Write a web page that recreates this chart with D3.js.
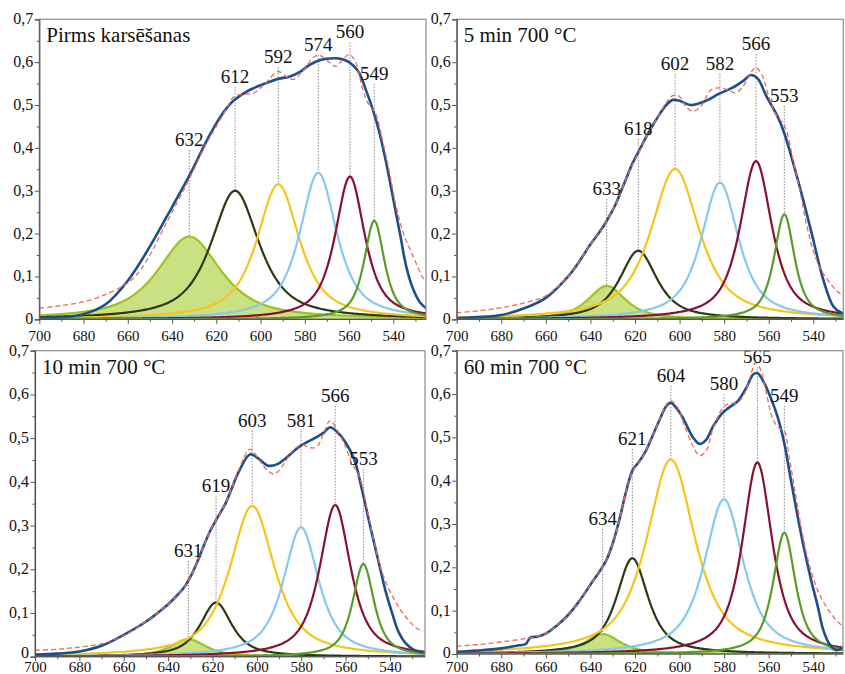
<!DOCTYPE html>
<html><head><meta charset="utf-8">
<script src="https://cdn.jsdelivr.net/npm/d3@7"></script>
<style>
body{margin:0;background:#fff}
svg{display:block}
</style>
</head><body><svg id="c" width="845" height="674"></svg>
<script>
// ---------------- DATA ----------------
const panelTitles = ["Pirms karsēšanas", "5 min 700 °C", "10 min 700 °C", "60 min 700 °C"];
const componentNames = ["P1", "P2", "P3", "P4", "P5", "P6"];
const peakLabels = [
  ["632", "612", "592", "574", "560", "549"],
  ["633", "618", "602", "582", "566", "553"],
  ["631", "619", "603", "581", "566", "553"],
  ["634", "621", "604", "580", "565", "549"]
];
const peakCenters = [
  [632.2, 611.5, 592.0, 573.9, 559.6, 548.6],
  [632.7, 618.5, 602.0, 581.9, 565.7, 553.0],
  [630.9, 618.4, 602.1, 580.1, 564.7, 552.0],
  [634.5, 621.2, 603.9, 580.1, 565.1, 553.0]
];
const peakHeights = [
  [0.193, 0.300, 0.315, 0.342, 0.333, 0.230],
  [0.078, 0.160, 0.351, 0.319, 0.369, 0.245],
  [0.040, 0.124, 0.345, 0.296, 0.347, 0.212],
  [0.046, 0.221, 0.449, 0.357, 0.442, 0.280]
];
const peakWidths = [
  [17, 13, 11.5, 10, 8, 5.5],
  [10, 10, 13, 10, 8.5, 5.5],
  [9.5, 8.5, 12, 9.5, 8.3, 5.8],
  [9.5, 8.5, 13, 10.5, 8, 6]
];
const peakLorentzFraction = 0.8;
const labelLevels = [
  [0.404, 0.551, 0.598, 0.626, 0.656, 0.559],
  [0.290, 0.430, 0.582, 0.582, 0.628, 0.507],
  [0.228, 0.377, 0.526, 0.526, 0.583, 0.439],
  [0.298, 0.482, 0.628, 0.609, 0.671, 0.582]
];
const envelopeTL = [[700,0.003],[690,0.005],[680,0.012],[670,0.035],[660,0.09],[650,0.17],[640,0.262],[632,0.337],[625,0.41],[620,0.457],[615,0.495],[612,0.511],[605,0.535],[598,0.55],[592,0.561],[587,0.566],[582,0.578],[578,0.593],[573,0.605],[567,0.609],[563,0.607],[560,0.6],[556,0.58],[552,0.53],[549,0.485],[546,0.43],[543,0.36],[540,0.28],[537,0.2],[534,0.12],[531,0.07],[528,0.04],[525,0.025]];
const measuredTL = [[700,0.026],[690,0.032],[680,0.041],[670,0.058],[660,0.085],[655,0.11],[650,0.15],[645,0.2],[640,0.25],[632,0.33],[625,0.405],[620,0.45],[615,0.495],[612,0.52],[608,0.525],[603,0.528],[598,0.55],[592,0.578],[588,0.565],[585,0.56],[580,0.585],[576,0.612],[573,0.615],[569,0.6],[566,0.59],[563,0.605],[560,0.618],[557,0.6],[554,0.54],[551,0.5],[548,0.48],[545,0.42],[542,0.35],[539,0.27],[536,0.21],[533,0.17],[530,0.135],[527,0.1],[525,0.085]];
const envelopeTR = [[700,0.003],[690,0.005],[680,0.01],[670,0.025],[660,0.05],[650,0.1],[645,0.135],[640,0.175],[636,0.203],[633,0.227],[629,0.265],[625,0.315],[621,0.365],[618,0.395],[614,0.435],[610,0.47],[606,0.5],[603,0.512],[600,0.51],[595,0.5],[589,0.508],[582,0.527],[576,0.541],[571,0.558],[568,0.57],[565,0.562],[561,0.52],[556,0.473],[553,0.434],[549,0.364],[544.5,0.278],[540,0.185],[535.5,0.092],[531,0.03],[527,0.014],[525,0.012]];
const measuredTR = [[700,0.015],[690,0.02],[680,0.027],[670,0.038],[660,0.055],[650,0.1],[645,0.135],[640,0.175],[636,0.203],[633,0.227],[629,0.265],[625,0.315],[621,0.362],[618,0.392],[614,0.435],[610,0.47],[606,0.505],[603,0.522],[600,0.52],[597,0.495],[594,0.485],[590,0.5],[586,0.535],[582,0.54],[578,0.535],[575,0.528],[572,0.54],[568,0.575],[566,0.588],[563,0.57],[560,0.52],[557,0.48],[554,0.46],[552,0.44],[549,0.37],[546,0.3],[543,0.22],[540,0.16],[537,0.12],[534,0.095],[531,0.075],[528,0.06],[525,0.05]];
const envelopeBL = [[700,0.005],[690,0.007],[680,0.012],[670,0.025],[660,0.05],[650,0.08],[645,0.099],[640,0.12],[636,0.14],[633,0.157],[630,0.182],[627,0.215],[624,0.253],[621,0.288],[618,0.316],[614,0.352],[608,0.425],[603,0.463],[599,0.452],[595,0.437],[591,0.44],[587,0.454],[581,0.48],[574,0.5],[570,0.512],[567,0.525],[564,0.515],[560,0.49],[556,0.45],[553,0.39],[549,0.3],[545,0.214],[542,0.15],[539,0.099],[536,0.055],[533,0.031],[529,0.015],[525,0.01]];
const measuredBL = [[700,0.015],[690,0.017],[680,0.022],[670,0.03],[660,0.048],[650,0.08],[645,0.099],[640,0.12],[636,0.14],[633,0.157],[630,0.182],[627,0.215],[624,0.253],[621,0.288],[618,0.316],[614,0.352],[608,0.43],[603,0.475],[599,0.45],[595,0.425],[592,0.418],[588,0.44],[584,0.47],[580,0.485],[576,0.478],[573,0.48],[570,0.51],[567,0.54],[564,0.52],[560,0.48],[557,0.44],[555,0.425],[553,0.4],[550,0.33],[547,0.26],[544,0.2],[541,0.16],[538,0.13],[535,0.105],[531,0.08],[528,0.065],[525,0.058]];
const envelopeBR = [[700,0.005],[690,0.008],[680,0.013],[672,0.02],[669,0.023],[667,0.038],[664,0.04],[660,0.047],[655,0.066],[650,0.09],[645,0.122],[640,0.16],[636,0.19],[633,0.215],[630,0.255],[627,0.31],[624,0.375],[621,0.425],[618,0.445],[615,0.47],[612,0.505],[609,0.54],[606,0.572],[604,0.58],[601,0.565],[598,0.54],[594,0.5],[591,0.485],[588,0.495],[585,0.525],[581,0.555],[578,0.568],[574,0.583],[570,0.615],[567,0.645],[565,0.648],[562,0.625],[559,0.59],[556,0.547],[553,0.486],[550,0.4],[547,0.317],[544,0.24],[541,0.171],[538,0.11],[535.5,0.055],[533,0.025],[530,0.009],[527,0.012],[525,0.012]];
const measuredBR = [[700,0.018],[690,0.022],[680,0.028],[670,0.035],[665,0.04],[660,0.047],[655,0.066],[650,0.09],[645,0.122],[640,0.16],[636,0.19],[633,0.215],[630,0.255],[627,0.31],[624,0.375],[621,0.423],[618,0.443],[615,0.47],[612,0.505],[609,0.54],[606,0.575],[604,0.585],[601,0.57],[598,0.53],[594,0.48],[591,0.458],[588,0.47],[585,0.52],[581,0.565],[578,0.578],[574,0.58],[571,0.6],[568,0.645],[566,0.672],[564,0.66],[561,0.6],[558,0.54],[555,0.52],[553,0.515],[551,0.46],[548,0.37],[545,0.28],[542,0.21],[539,0.16],[536,0.125],[533,0.1],[530,0.08],[527,0.065],[525,0.06]];
const envelopes = [envelopeTL, envelopeTR, envelopeBL, envelopeBR];
const measured = [measuredTL, measuredTR, measuredBL, measuredBR];
const yTicks = [0, 0.1, 0.2, 0.3, 0.4, 0.5, 0.6, 0.7];
const yTickLabels = ["0", "0,1", "0,2", "0,3", "0,4", "0,5", "0,6", "0,7"];
const yMinorTicks = [0.05, 0.15, 0.25, 0.35, 0.45, 0.55, 0.65];
const xTicks = [700, 680, 660, 640, 620, 600, 580, 560, 540];
const xMinorTicks = [690, 670, 650, 630, 610, 590, 570, 550, 530];

// ---------------- STYLE / LAYOUT ----------------
const FONT = "'Liberation Serif', 'Times New Roman', 'DejaVu Serif', serif";
const compColors = ["#9dc41e", "#2b3914", "#f5c51c", "#86c8f0", "#8a1030", "#5a9c28"];
const layout = [
  {x700: 39.3, x540: 393.3, x0: 39.3, x1: 426, yTop: 19.3, yZero: 319.3, xPad: 6.5, zeroDy: "0.28em"},
  {x700: 456.7, x540: 813.3, x0: 456.7, x1: 843.3, yTop: 19.3, yZero: 319.3, xPad: 6.5, zeroDy: "0.28em"},
  {x700: 35, x540: 390, x0: 35, x1: 425, yTop: 350.7, yZero: 656.7, xPad: 0.5, zeroDy: "0.02em"},
  {x700: 456.7, x540: 813.3, x0: 456.7, x1: 843, yTop: 350.7, yZero: 654, xPad: 3, zeroDy: "0.2em"}
];

const svg = d3.select("#c");
svg.append("rect").attr("width", 845).attr("height", 674).attr("fill", "#fff");

layout.forEach((L, p) => {
  const g = svg.append("g");
  const x = d3.scaleLinear().domain([700, 540]).range([L.x700, L.x540]);
  const y = d3.scaleLinear().domain([0, 0.7]).range([L.yZero, L.yTop]);
  const clipId = "clip" + p;
  svg.append("clipPath").attr("id", clipId).append("rect")
    .attr("x", L.x0).attr("y", L.yTop - 30).attr("width", L.x1 - L.x0).attr("height", L.yZero - L.yTop + 30);
  const vEnd = x.invert(L.x1 + 1);
  const vs = d3.range(700, vEnd - 0.5, -0.5);

  const plot = g.append("g").attr("clip-path", `url(#${clipId})`);
  const eta = peakLorentzFraction;
  const comps = componentNames.map((n, i) => {
    const c = peakCenters[p][i], h = peakHeights[p][i], w = peakWidths[p][i];
    return vs.map(v => {
      const a = ((v - c) / w) ** 2;
      return [v, h * (eta / (1 + a) + (1 - eta) * Math.exp(-Math.LN2 * a))];
    });
  });

  const line = d3.line().x(d => x(d[0])).y(d => y(d[1]));
  const area = d3.area().x(d => x(d[0])).y0(y(0)).y1(d => y(d[1]));

  peakLabels[p].forEach((lab, i) => {
    plot.append("line")
      .attr("x1", x(peakCenters[p][i])).attr("x2", x(peakCenters[p][i]))
      .attr("y1", y(labelLevels[p][i]) + 4).attr("y2", y(peakHeights[p][i]))
      .attr("stroke", "#7a7a7a").attr("stroke-width", 0.9).attr("stroke-dasharray", "1.5,1.5");
  });

  plot.append("path").datum(comps[0]).attr("d", area)
    .attr("fill", "#a2c92a").attr("fill-opacity", 0.58);
  comps.forEach((cd, i) => {
    plot.append("path").datum(cd).attr("d", line)
      .attr("fill", "none").attr("stroke", compColors[i]).attr("stroke-width", 2.2);
  });

  const smooth = d3.line().x(d => x(d[0])).y(d => y(d[1])).curve(d3.curveCatmullRom.alpha(0.5));
  plot.append("path").datum(envelopes[p]).attr("d", smooth)
    .attr("fill", "none").attr("stroke", "#1d4f8c").attr("stroke-width", 2.6);
  plot.append("path").datum(measured[p]).attr("d", smooth)
    .attr("fill", "none").attr("stroke", "#f06a55").attr("stroke-width", 1.3).attr("stroke-dasharray", "5,3");

  peakLabels[p].forEach((lab, i) => {
    g.append("text").attr("x", x(peakCenters[p][i])).attr("y", y(labelLevels[p][i]))
      .attr("text-anchor", "middle").style("font-family", FONT).style("font-size", "19px")
      .attr("fill", "#111").text(lab);
  });

  g.append("rect").attr("x", L.x0).attr("y", L.yTop).attr("width", L.x1 - L.x0).attr("height", L.yZero - L.yTop)
    .attr("fill", "none").attr("stroke", "#8c8c8c").attr("stroke-width", 1.2);

  const yAxis = d3.axisLeft(y).tickValues(yTicks).tickFormat((d, i) => yTickLabels[i]).tickSize(4.5).tickPadding(1.5);
  const ya = g.append("g").attr("transform", `translate(${L.x0},0)`).call(yAxis);
  const yMinor = d3.axisLeft(y).tickValues(yMinorTicks).tickFormat("").tickSize(2.5);
  const ym = g.append("g").attr("transform", `translate(${L.x0},0)`).call(yMinor);
  const xAxis = d3.axisBottom(x).tickValues(xTicks).tickSize(4.5).tickPadding(L.xPad);
  const xa = g.append("g").attr("transform", `translate(0,${L.yZero})`).call(xAxis);
  const xMinor = d3.axisBottom(x).tickValues(xMinorTicks.filter(v => x(v) <= L.x1)).tickFormat("").tickSize(2.5);
  const xm = g.append("g").attr("transform", `translate(0,${L.yZero})`).call(xMinor);
  [ya, ym, xa, xm].forEach(a => {
    a.attr("font-family", null).attr("font-size", null);
    a.select(".domain").attr("stroke", "#555").attr("stroke-width", 1.2);
    a.selectAll(".tick line").attr("stroke", "#555");
    a.selectAll("text").style("font-family", FONT).attr("fill", "#111");
  });
  xm.select(".domain").remove(); ym.select(".domain").remove();
  xa.select(".domain").attr("d", `M${L.x0},0H${L.x1}`);
  ya.selectAll("text").style("font-size", "16px").attr("dy", d => d === 0 ? L.zeroDy : "0.28em");
  xa.selectAll("text").style("font-size", "15px");

  g.append("text").attr("x", L.x0 + 7).attr("y", L.yTop + 23)
    .style("font-family", FONT).style("font-size", "21px").attr("fill", "#111").text(panelTitles[p]);
});
</script>
</body></html>
